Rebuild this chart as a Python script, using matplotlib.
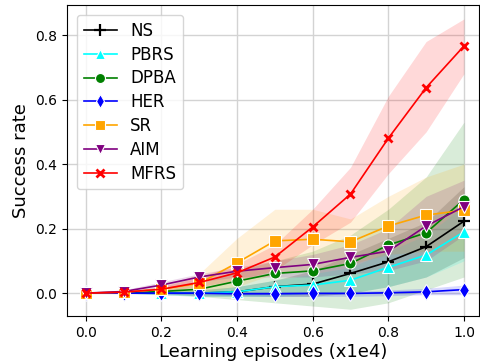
import numpy as np
import matplotlib
matplotlib.use("Agg")
import matplotlib.pyplot as plt

episodes = [0.0, 0.1, 0.2, 0.3, 0.4, 0.5, 0.6, 0.7, 0.8, 0.9, 1.0]

methods = ["NS", "PBRS", "DPBA", "HER", "SR", "AIM", "MFRS"]
colors = ["black", "cyan", "green", "blue", "orange", "purple", "red"]
markers = ["+", "^", "o", "d", "s", "v", "x"]

ns_mean = [0, 0, 0, 0, 0.004, 0.02, 0.028, 0.061, 0.097, 0.144, 0.223]
ns_low = [0, 0, 0, -0.01, -0.01, -0.01, -0.01, 0.0, 0.02, 0.05, 0.11]
ns_high = [0, 0, 0.005, 0.01, 0.02, 0.04, 0.07, 0.12, 0.17, 0.22, 0.33]

pbrs_mean = [0, 0, 0, 0, 0.004, 0.02, 0.025, 0.04, 0.08, 0.118, 0.19]
pbrs_low = [0, 0, -0.005, -0.01, -0.01, -0.01, 0, 0, 0.02, 0.05, 0.1]
pbrs_high = [0, 0, 0.005, 0.01, 0.02, 0.04, 0.06, 0.08, 0.13, 0.18, 0.27]

dpba_mean = [0, 0, 0.005, 0.012, 0.037, 0.061, 0.069, 0.092, 0.149, 0.187, 0.29]
dpba_low = [0, 0, -0.005, -0.01, -0.02, -0.03, -0.04, -0.05, -0.03, 0.01, 0.05]
dpba_high = [0, 0, 0.01, 0.03, 0.07, 0.1, 0.13, 0.18, 0.26, 0.36, 0.53]

her_mean = [0, 0, 0, 0, -0.002, -0.002, -0.001, -0.001, 0.001, 0.004, 0.011]
her_low = [0, 0, -0.005, -0.005, -0.008, -0.01, -0.01, -0.01, -0.008, -0.005, -0.005]
her_high = [0, 0, 0.005, 0.005, 0.005, 0.005, 0.005, 0.005, 0.01, 0.015, 0.025]

sr_mean = [0, 0.003, 0.012, 0.03, 0.094, 0.162, 0.167, 0.159, 0.208, 0.242, 0.257]
sr_low = [0, 0, 0, 0, 0.02, 0.06, 0.07, 0.09, 0.12, 0.13, 0.13]
sr_high = [0, 0.005, 0.02, 0.06, 0.17, 0.26, 0.26, 0.23, 0.3, 0.36, 0.4]

aim_mean = [0, 0.005, 0.025, 0.05, 0.068, 0.079, 0.089, 0.111, 0.13, 0.208, 0.268]
aim_low = [0, 0, 0.015, 0.035, 0.05, 0.05, 0.05, 0.06, 0.07, 0.1, 0.18]
aim_high = [0, 0.01, 0.035, 0.06, 0.08, 0.1, 0.12, 0.15, 0.2, 0.3, 0.35]

mfrs_mean = [0, 0.003, 0.012, 0.033, 0.063, 0.112, 0.205, 0.307, 0.48, 0.637, 0.766]
mfrs_low = [0, 0, 0.005, 0.02, 0.04, 0.07, 0.15, 0.22, 0.37, 0.5, 0.68]
mfrs_high = [0, 0.005, 0.02, 0.05, 0.09, 0.15, 0.26, 0.39, 0.61, 0.78, 0.85]

means = [ns_mean, pbrs_mean, dpba_mean, her_mean, sr_mean, aim_mean, mfrs_mean]
lows = [ns_low, pbrs_low, dpba_low, her_low, sr_low, aim_low, mfrs_low]
highs = [ns_high, pbrs_high, dpba_high, her_high, sr_high, aim_high, mfrs_high]

fig = plt.figure(figsize=(4.81, 3.62), dpi=100)
ax = fig.add_axes([0.139, 0.127, 0.857, 0.859])

for name, c, m, mean, lo, hi in zip(methods, colors, markers, means, lows, highs):
    ax.fill_between(episodes, lo, hi, color=c, alpha=0.15, linewidth=0)
    if m == "+":
        ax.plot(episodes, mean, color=c, marker=m, markersize=9, markeredgewidth=1.6,
                linewidth=1.2, label=name)
    elif m == "x":
        ax.plot(episodes, mean, color=c, marker=m, markersize=6, markeredgewidth=2,
                linewidth=1.2, label=name)
    else:
        ax.plot(episodes, mean, color=c, marker=m, markersize=8, markeredgecolor="white",
                markeredgewidth=0.8, linewidth=1.2, label=name)

ax.set_xlim(-0.05, 1.04)
ax.set_ylim(-0.071, 0.893)
ax.set_xticks([0.0, 0.2, 0.4, 0.6, 0.8, 1.0])
ax.set_yticks([0.0, 0.2, 0.4, 0.6, 0.8])
ax.grid(True, color="#d3d3d3", linewidth=1)
ax.set_axisbelow(True)
ax.tick_params(labelsize=10)
ax.set_xlabel("Learning episodes (x1e4)", fontsize=13, labelpad=2)
ax.set_ylabel("Success rate", fontsize=13)
ax.legend(loc="upper left", fontsize=12, handlelength=2, labelspacing=0.35,
          borderaxespad=0.6, markerscale=0.9)

fig.savefig("out.png", dpi=100)
